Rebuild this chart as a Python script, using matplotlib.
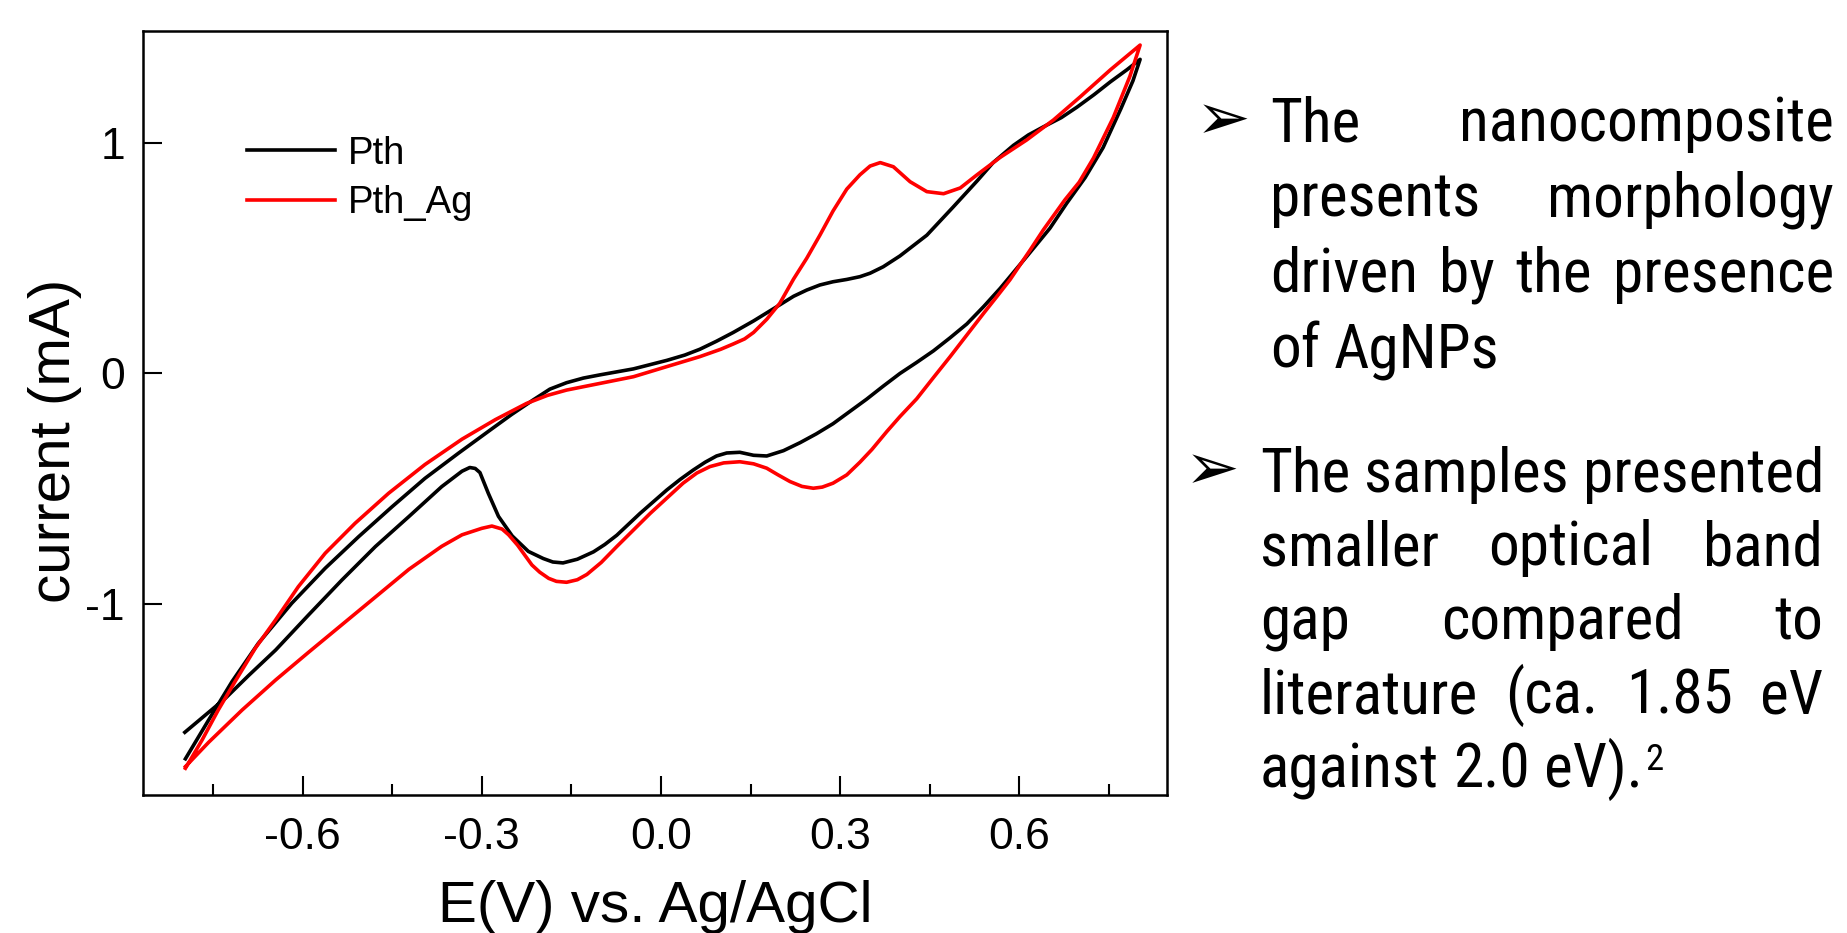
import numpy as np
import matplotlib
matplotlib.use("Agg")
import matplotlib.pyplot as plt
from matplotlib.ticker import MultipleLocator, AutoMinorLocator
from matplotlib import font_manager
from matplotlib.font_manager import FontProperties

# cyclic voltammograms, values (E in V, I in mA)
pth_fwd_e = [-0.796, -0.757, -0.718, -0.674, -0.618, -0.562, -0.506, -0.450, -0.395, -0.339,
             -0.283, -0.250, -0.214, -0.186, -0.158, -0.130, -0.102, -0.046, 0.010, 0.040,
             0.065, 0.093, 0.121, 0.155, 0.199, 0.222, 0.244, 0.266, 0.288, 0.311,
             0.333, 0.350, 0.372, 0.400, 0.445, 0.489, 0.529, 0.556, 0.590, 0.615,
             0.640, 0.670, 0.696, 0.725, 0.752, 0.780, 0.802]
pth_fwd_i = [-1.672, -1.503, -1.337, -1.171, -0.997, -0.845, -0.708, -0.578, -0.455, -0.346,
             -0.240, -0.178, -0.115, -0.068, -0.040, -0.020, -0.006, 0.020, 0.057, 0.080,
             0.105, 0.140, 0.178, 0.228, 0.298, 0.335, 0.362, 0.384, 0.398, 0.408,
             0.420, 0.435, 0.463, 0.510, 0.600, 0.722, 0.835, 0.915, 0.990, 1.035,
             1.070, 1.110, 1.155, 1.210, 1.265, 1.318, 1.363]
pth_rev_e = [0.802, 0.790, 0.770, 0.740, 0.710, 0.679, 0.651, 0.612, 0.568, 0.540,
             0.512, 0.484, 0.456, 0.428, 0.400, 0.372, 0.344, 0.316, 0.288, 0.260,
             0.233, 0.205, 0.177, 0.155, 0.132, 0.110, 0.093, 0.074, 0.054, 0.032,
             0.010, -0.035, -0.074, -0.094, -0.113, -0.140, -0.164, -0.181, -0.197, -0.222,
             -0.249, -0.272, -0.289, -0.303, -0.311, -0.320, -0.333, -0.367, -0.422, -0.478,
             -0.534, -0.590, -0.645, -0.690, -0.729, -0.797]
pth_rev_i = [1.363, 1.270, 1.150, 0.980, 0.850, 0.738, 0.630, 0.507, 0.370, 0.290,
             0.215, 0.155, 0.098, 0.048, 0.000, -0.055, -0.112, -0.165, -0.218, -0.262,
             -0.300, -0.335, -0.358, -0.355, -0.342, -0.345, -0.358, -0.385, -0.419, -0.460,
             -0.505, -0.607, -0.702, -0.742, -0.774, -0.806, -0.822, -0.818, -0.803, -0.772,
             -0.705, -0.620, -0.520, -0.430, -0.412, -0.408, -0.424, -0.491, -0.621, -0.751,
             -0.896, -1.048, -1.200, -1.310, -1.409, -1.557]

ag_fwd_e = [-0.796, -0.768, -0.741, -0.713, -0.679, -0.645, -0.607, -0.562, -0.512, -0.456,
            -0.395, -0.333, -0.277, -0.225, -0.190, -0.158, -0.102, -0.046, 0.010, 0.065,
            0.100, 0.121, 0.140, 0.155, 0.177, 0.199, 0.222, 0.244, 0.266, 0.288,
            0.311, 0.333, 0.350, 0.367, 0.389, 0.417, 0.445, 0.473, 0.501, 0.529,
            0.568, 0.612, 0.657, 0.702, 0.752, 0.802]
ag_fwd_i = [-1.713, -1.590, -1.460, -1.337, -1.192, -1.069, -0.925, -0.780, -0.650, -0.520,
            -0.395, -0.285, -0.200, -0.130, -0.095, -0.072, -0.043, -0.014, 0.030, 0.073,
            0.105, 0.128, 0.150, 0.178, 0.235, 0.305, 0.410, 0.500, 0.600, 0.705,
            0.800, 0.862, 0.900, 0.915, 0.897, 0.832, 0.789, 0.780, 0.805, 0.862,
            0.938, 1.013, 1.100, 1.201, 1.317, 1.425]
ag_rev_e = [0.802, 0.785, 0.757, 0.724, 0.700, 0.676, 0.640, 0.618, 0.584, 0.562,
            0.540, 0.512, 0.484, 0.456, 0.428, 0.400, 0.378, 0.353, 0.333, 0.311,
            0.288, 0.270, 0.255, 0.236, 0.216, 0.196, 0.177, 0.155, 0.132, 0.105,
            0.082, 0.060, 0.037, -0.018, -0.074, -0.100, -0.124, -0.140, -0.158, -0.175,
            -0.188, -0.203, -0.216, -0.240, -0.255, -0.266, -0.283, -0.300, -0.333, -0.367,
            -0.422, -0.478, -0.534, -0.590, -0.645, -0.701, -0.757, -0.796]
ag_rev_i = [1.425, 1.290, 1.110, 0.935, 0.830, 0.753, 0.623, 0.536, 0.406, 0.333,
            0.261, 0.167, 0.073, -0.018, -0.110, -0.187, -0.252, -0.330, -0.385, -0.440,
            -0.476, -0.493, -0.498, -0.490, -0.469, -0.440, -0.411, -0.392, -0.383, -0.388,
            -0.404, -0.432, -0.476, -0.607, -0.751, -0.820, -0.872, -0.895, -0.906, -0.902,
            -0.889, -0.862, -0.831, -0.745, -0.700, -0.675, -0.662, -0.672, -0.700, -0.750,
            -0.850, -0.970, -1.090, -1.210, -1.330, -1.460, -1.600, -1.706]

series = ["Pth", "Pth_Ag"]
colors = ["black", "#ff0000"]
x_ticks = [-0.6, -0.3, 0.0, 0.3, 0.6]
y_ticks = [-1, 0, 1]

bullet1 = [["The", "nanocomposite"],
           ["presents", "morphology"],
           ["driven", "by", "the", "presence"],
           ["of", "AgNPs"]]
bullet2 = [["The", "samples", "presented"],
           ["smaller", "optical", "band"],
           ["gap", "compared", "to"],
           ["literature", "(ca.", "1.85", "eV"],
           ["against", "2.0", "eV)."]]
footnote = "2"

W, H = 1847, 933
plt.rcParams["font.family"] = ["Liberation Sans", "DejaVu Sans"]
plt.rcParams["axes.unicode_minus"] = False

fig = plt.figure(figsize=(W / 100, H / 100), dpi=100)
ax = fig.add_axes([143 / W, 1 - 795 / H, 1024 / W, 764 / H])

ax.plot(pth_fwd_e + pth_rev_e, pth_fwd_i + pth_rev_i, color=colors[0], lw=2.6, label=series[0])
ax.plot(ag_fwd_e + ag_rev_e, ag_fwd_i + ag_rev_i, color=colors[1], lw=2.6, label=series[1])

ax.set_xlim(-0.867, 0.847)
ax.set_ylim(-1.829, 1.486)
ax.set_xticks(x_ticks)
ax.set_xticklabels([f"{v:.1f}" for v in x_ticks])
ax.set_yticks(y_ticks)
ax.set_yticklabels([str(v) for v in y_ticks])
ax.xaxis.set_minor_locator(AutoMinorLocator(2))
ax.tick_params(which="both", direction="in", top=False, right=False, width=1.5)
ax.tick_params(which="major", length=14, labelsize=32)
ax.tick_params(which="minor", length=8)
ax.tick_params(axis="x", pad=16)
ax.tick_params(axis="y", pad=13)
for s in ax.spines.values():
    s.set_linewidth(1.8)

ax.legend(loc="upper left", bbox_to_anchor=(0.1013, 0.8628), frameon=False,
          fontsize=27.5, handlelength=2.3, handletextpad=0.35, labelspacing=0.35,
          borderpad=0, borderaxespad=0)

fig.text(655 / W, 1 - 922 / H, "E(V) vs. Ag/AgCl", fontsize=42, ha="center", va="baseline")
fig.text(55 / W, 1 - 441 / H, "current (mA)", fontsize=42, rotation=90, ha="center", va="center")


# narrow font for the bullet text
def pick_narrow():
    for fam, st in [("Liberation Sans Narrow", "normal"), ("Arial Narrow", "normal"),
                    ("Roboto Condensed", "normal"), ("Noto Sans", "condensed"),
                    ("Open Sans", "condensed")]:
        try:
            path = font_manager.findfont(FontProperties(family=fam, stretch=st),
                                         fallback_to_default=False)
        except ValueError:
            continue
        low = path.lower()
        if "narrow" in low or "condensed" in low:
            return path
    return None


narrow = pick_narrow()
renderer = fig.canvas.get_renderer()


def make_font(size):
    if narrow:
        return FontProperties(fname=narrow, size=size)
    return FontProperties(family="Liberation Sans", size=size)


def width_of(s, fp):
    t = fig.text(0, 0, s, fontproperties=fp)
    w = t.get_window_extent(renderer).width
    t.remove()
    return w


# size the body text so the widest natural line fills the column, like the slide
size = 47
body = make_font(size)
natural = width_of("The samples presented", body)
if natural > 563:
    size = size * 563 / natural
    body = make_font(size)
sup = make_font(size * 0.6)
space_w = width_of("a a", body) - width_of("aa", body)


def put_line(words, x0, x1, base, justify):
    texts = [fig.text(0, 0, w, fontproperties=body, va="baseline", ha="left") for w in words]
    widths = [t.get_window_extent(renderer).width for t in texts]
    gap = (x1 - x0 - sum(widths)) / (len(words) - 1) if justify else space_w
    gap = max(gap, space_w)
    x = x0
    for t, w in zip(texts, widths):
        t.set_position((x / W, 1 - base / H))
        x += w + gap
    return x - gap


def put_block(lines, x0, x1, first_base, step, arrow_x):
    fig.text(arrow_x / W, 1 - (first_base - 2) / H, "\u27a2", fontsize=47,
             family="DejaVu Sans", va="baseline", ha="left")
    end = 0
    for k, words in enumerate(lines):
        end = put_line(words, x0, x1, first_base + k * step, k < len(lines) - 1)
    return end


put_block(bullet1, 1270, 1834, 141, 75.5, 1196)
end = put_block(bullet2, 1260, 1823, 491.5, 73.9, 1185)
fig.text((end + 3) / W, 1 - 770 / H, footnote, fontproperties=sup, va="baseline", ha="left")

fig.savefig("out.png", dpi=100)
